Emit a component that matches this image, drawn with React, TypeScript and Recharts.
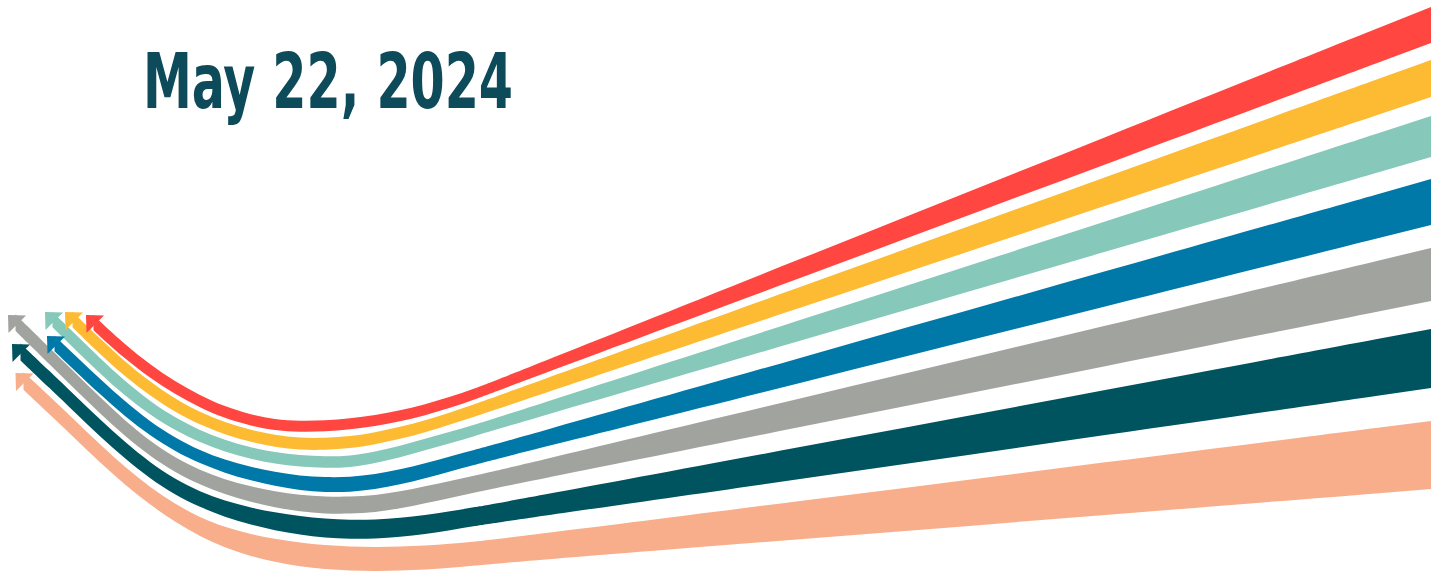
import React from 'react'
import { ComposedChart, Area, Scatter, XAxis, YAxis } from 'recharts'

const W = 1442
const H = 573

// x positions and [top, bottom] edges of each ribbon, in picture units (y grows downward)
const redX = [93.5, 100, 125, 150, 175, 200, 225, 250, 275, 300, 325, 350, 375, 400, 425, 450, 475, 500, 800, 1100, 1431]
const redTop = [314.8, 321.4, 344.4, 364.5, 381.5, 395.4, 406.7, 414.4, 419.5, 421, 420.5, 418.5, 415.2, 410.5, 404.5, 397, 388.5, 378.9, 259.1, 139.3, 7]
const redBottom = [330.3, 336.4, 358.9, 378, 394.3, 407.6, 418.4, 425.7, 430.5, 432, 431.5, 429.5, 426.2, 421.5, 415.5, 408, 399.5, 389.9, 278.1, 166.3, 43]

const yellowX = [72.5, 100, 125, 150, 175, 200, 225, 250, 275, 300, 325, 350, 375, 400, 425, 450, 475, 500, 800, 1100, 1431]
const yellowTop = [311.8, 338.7, 361.7, 381.7, 398.8, 412.2, 422.4, 430, 435, 438, 438, 436.5, 432.5, 427, 420.5, 412.5, 404, 395, 287.1, 179.1, 60]
const yellowBottom = [327.3, 354.2, 376.5, 395.7, 412, 424.8, 434.6, 442, 447, 450, 450, 448.5, 444.5, 439, 432.5, 424.5, 416.5, 408, 307.8, 207.6, 97]

const mintX = [52.5, 75, 100, 125, 150, 175, 200, 225, 250, 275, 300, 325, 350, 375, 400, 425, 450, 475, 500, 800, 1100, 1431]
const mintTop = [311.8, 333.8, 358.3, 381.4, 401.3, 417.7, 430.5, 440.2, 447.3, 452.3, 455.3, 456.6, 456, 451.8, 445.8, 438.8, 431.8, 424.5, 416.8, 320.1, 223.3, 116]
const mintBottom = [327.3, 349.3, 373.5, 395.9, 414.8, 430.4, 442.5, 451.9, 458.8, 463.8, 466.8, 468.1, 467.5, 463.3, 457.3, 450.3, 443.3, 436, 428.3, 340.8, 253.3, 157]

const blueX = [54.5, 75, 100, 125, 150, 175, 200, 225, 250, 275, 300, 325, 350, 375, 400, 425, 450, 475, 500, 800, 1100, 1431]
const blueTop = [335.8, 355.3, 378.8, 401.5, 421.5, 437.8, 450.5, 460, 466.8, 472, 475.8, 477.3, 477.1, 474.5, 469.6, 463.2, 456.4, 449.7, 443, 357.9, 272.8, 179]
const blueBottom = [351.3, 370.8, 394.3, 416.5, 435.5, 451.3, 463.5, 473, 480.3, 486, 490.3, 492.3, 492.1, 489.5, 484.6, 478.2, 471.4, 464.7, 458, 382.9, 307.8, 225]

const grayX = [15.5, 25, 50, 75, 100, 125, 150, 175, 200, 225, 250, 275, 300, 325, 350, 375, 400, 425, 450, 475, 500, 800, 1100, 1431]
const grayTop = [314.3, 323.8, 348.3, 372.8, 397.3, 420.7, 441, 457.8, 470.3, 479.6, 486.4, 491.5, 495.1, 496.7, 496.9, 495.2, 491.6, 486.2, 480.9, 475.5, 470, 398.5, 327, 248]
const grayBottom = [330.8, 340.3, 364.8, 389.3, 413.5, 436.2, 456, 472.3, 484.8, 494.4, 501.7, 507.5, 511.6, 513.7, 513.9, 512.2, 508.6, 503.2, 497.9, 492.5, 487, 427.1, 367.2, 301]

const tealX = [20.5, 50, 75, 100, 125, 150, 175, 200, 225, 250, 275, 300, 325, 350, 375, 400, 425, 450, 475, 500, 800, 1100, 1431]
const tealTop = [343.5, 371.5, 395.5, 419.5, 442.3, 462.5, 479.3, 491.8, 501, 507.5, 512.5, 516.3, 518.8, 520, 519.7, 518, 515.1, 511.3, 507.1, 503, 447.1, 391.1, 329]
const tealBottom = [360.5, 388.5, 412.5, 436.5, 458.8, 478.5, 494.8, 507.3, 517, 524.5, 530.5, 534.8, 537.8, 539, 538.7, 537, 534.1, 530.3, 526.1, 522, 479, 435.9, 388]

const peachX = [23.5, 50, 75, 100, 125, 150, 175, 200, 225, 250, 275, 300, 325, 350, 375, 400, 425, 450, 475, 500, 800, 1100, 1431]
const peachTop = [372.3, 396.5, 420.5, 444.5, 467.3, 487.3, 504, 517.5, 527.3, 534, 539, 542.5, 545.3, 546.6, 547, 546.7, 545.6, 543.9, 541.6, 539, 501, 463, 421]
const peachBottom = [389.8, 414.5, 438.5, 462.5, 484.8, 504.8, 522, 536.5, 547.8, 556, 562, 566.5, 569.3, 570.6, 571, 570.7, 569.6, 567.9, 565.6, 563, 539.2, 515.4, 489]

// arrow tips at the left end of each ribbon
const tipX = [86, 65, 45, 47, 8, 12, 15.5]
const tipY = [315, 312, 312, 336, 315, 344, 373]

const colors = ['#ff4641', '#fdbb33', '#86c8b9', '#0079a9', '#a1a39e', '#00545f', '#f8ae8a']

const ribbons = [
  [redX, redTop, redBottom],
  [yellowX, yellowTop, yellowBottom],
  [mintX, mintTop, mintBottom],
  [blueX, blueTop, blueBottom],
  [grayX, grayTop, grayBottom],
  [tealX, tealTop, tealBottom],
  [peachX, peachTop, peachBottom],
].map(([xs, top, bottom]) => xs.map((x, i) => ({ x, band: [top[i], bottom[i]] })))

const HEAD = 18

function arrowShape(color: string) {
  return (props: any) => {
    const { cx, cy } = props
    if (cx == null || cy == null) return null
    const pts = [
      [cx, cy],
      [cx + HEAD, cy + 0.5],
      [cx + 0.5, cy + HEAD],
    ]
    return <polygon points={pts.map((p) => p.join(',')).join(' ')} fill={color} />
  }
}

export default function App() {
  return (
    <div style={{ position: 'absolute', left: 0, top: 0, width: W, height: H, background: '#fff' }}>
      <ComposedChart width={W} height={H} margin={{ top: 0, right: 0, bottom: 0, left: 0 }}>
        <XAxis type="number" dataKey="x" domain={[0, W]} allowDataOverflow hide />
        <YAxis type="number" domain={[0, H]} reversed allowDataOverflow hide />
        {ribbons.map((data, i) => (
          <Area
            key={`r${i}`}
            data={data}
            dataKey="band"
            type="basis"
            fill={colors[i]}
            fillOpacity={1}
            stroke="none"
            isAnimationActive={false}
          />
        ))}
        {tipX.map((x, i) => (
          <Scatter
            key={`a${i}`}
            data={[{ x, y: tipY[i] }]}
            dataKey="y"
            shape={arrowShape(colors[i])}
            isAnimationActive={false}
          />
        ))}
      </ComposedChart>
      <svg
        width={W}
        height={H}
        style={{ position: 'absolute', left: 0, top: 0, pointerEvents: 'none' }}
      >
        <text
          x={143}
          y={108}
          fontSize={77}
          fontWeight={700}
          fontFamily="'Liberation Sans Narrow', 'DejaVu Sans Condensed', 'Roboto', sans-serif"
          textLength={370}
          lengthAdjust="spacingAndGlyphs"
          fill="#0d4a5a"
        >
          May 22, 2024
        </text>
      </svg>
    </div>
  )
}
